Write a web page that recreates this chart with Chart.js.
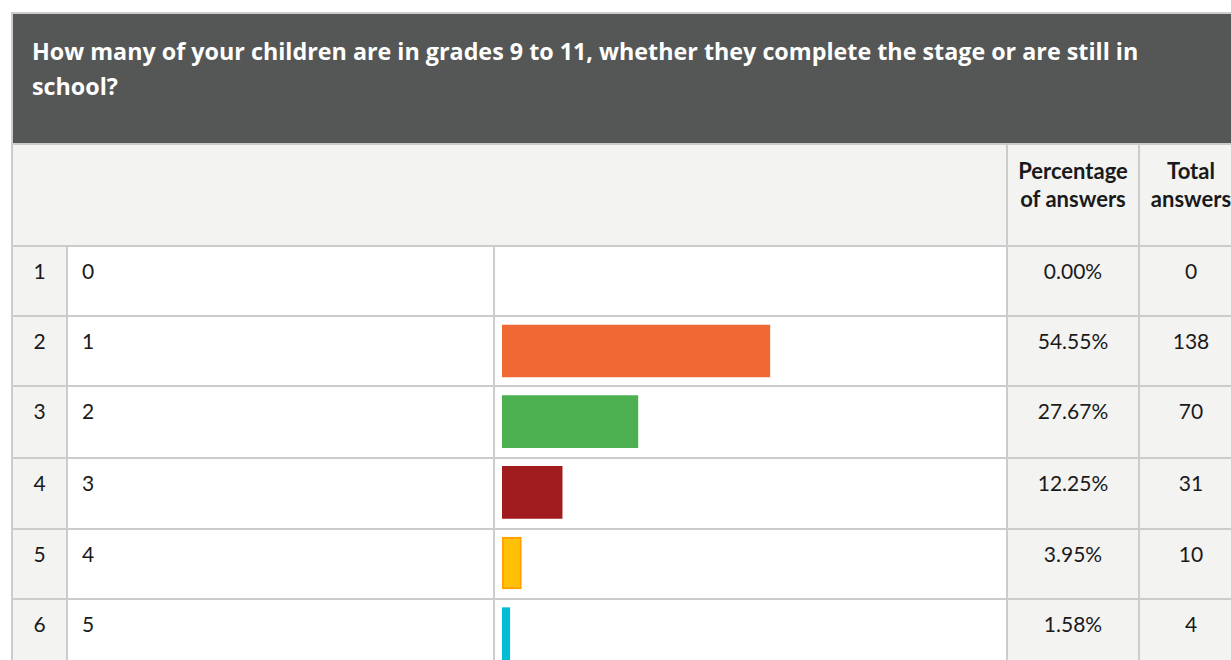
<!DOCTYPE html>
<html>
<head>
<meta charset="utf-8">
<script src="https://cdn.jsdelivr.net/npm/chart.js@4"></script>
<style>
  body { margin: 0; background: #fff; width: 1231px; height: 660px; overflow: hidden; position: relative; font-family: Lato, 'Open Sans', sans-serif; color: #1a1a1a; }
  .cell { position: absolute; box-sizing: border-box; border: 2px solid #cccccc; font-size: 21px; line-height: 24px; }
  .title { position: absolute; left: 11px; top: 12px; width: 1240px; height: 133px; box-sizing: border-box; border: 2px solid #cccccc; background: #555756; color: #fff; font-family: 'Open Sans', sans-serif; font-weight: bold; font-size: 23.3px; line-height: 35px; padding: 20px 70px 0 19px; }
  .head { font-weight: bold; font-size: 22px; text-align: center; padding-top: 12px; line-height: 28px; }
  #bars { position: absolute; left: 494px; top: 245px; }
</style>
</head>
<body>
<div id="grid"></div>
<canvas id="bars" width="512" height="424"></canvas>
<script>
const title = 'How many of your children are in grades 9 to 11, whether they complete the stage or are still in school?'
const headers = ['Percentage<br>of answers', 'Total<br>answers']
const rowNumbers = [1, 2, 3, 4, 5, 6]
const categories = ['0', '1', '2', '3', '4', '5']
const percentages = [0, 54.55, 27.67, 12.25, 3.95, 1.58]
const totals = [0, 138, 70, 31, 10, 4]
const barColors = ['rgba(0,0,0,0)', '#f06934', '#4cb050', '#a11c1f', '#ffc107', '#00bcd4']
const barBorders = ['rgba(0,0,0,0)', '#f06934', '#4cb050', '#a11c1f', '#ffa000', '#00bcd4']

// table layout
const colX = [11, 66, 493, 1006, 1138, 1250]
const rowY = [143, 245, 315, 385, 457, 528, 598, 669]
const grid = document.querySelector('#grid')
const gray = '#f3f3f2'

function cell(x0, x1, y0, y1, bg, html, style) {
    const d = document.createElement('div')
    d.className = 'cell'
    d.style.left = x0 + 'px'
    d.style.top = y0 + 'px'
    d.style.width = (x1 - x0 + 2) + 'px'
    d.style.height = (y1 - y0 + 2) + 'px'
    d.style.background = bg
    d.innerHTML = html
    Object.assign(d.style, style || {})
    grid.appendChild(d)
    return d
}

const t = document.createElement('div')
t.className = 'title'
t.textContent = title
grid.appendChild(t)

cell(colX[0], colX[3], rowY[0], rowY[1], gray, '')
cell(colX[3], colX[4], rowY[0], rowY[1], gray, headers[0]).classList.add('head')
cell(colX[4], colX[5], rowY[0], rowY[1], gray, headers[1], { paddingRight: '8px' }).classList.add('head')

categories.forEach((c, i) => {
    const y0 = rowY[i + 1], y1 = rowY[i + 2]
    const pad = { paddingTop: '12px' }
    cell(colX[0], colX[1], y0, y1, gray, rowNumbers[i], Object.assign({ textAlign: 'center' }, pad))
    cell(colX[1], colX[2], y0, y1, '#fff', c, Object.assign({ paddingLeft: '14px' }, pad))
    cell(colX[2], colX[3], y0, y1, '#fff', '')
    cell(colX[3], colX[4], y0, y1, gray, percentages[i].toFixed(2) + '%', Object.assign({ textAlign: 'center' }, pad))
    cell(colX[4], colX[5], y0, y1, gray, totals[i], Object.assign({ textAlign: 'center', paddingRight: '8px' }, pad))
})

new Chart(document.querySelector('#bars'), {
    type: 'bar',
    data: {
        labels: categories,
        datasets: [{
            data: percentages,
            backgroundColor: barColors,
            borderColor: barBorders,
            borderWidth: [0, 0, 0, 0, 2, 0],
            borderSkipped: false,
            barThickness: 52
        }]
    },
    options: {
        indexAxis: 'y',
        responsive: false,
        animation: false,
        layout: { padding: { left: 8, right: 13, top: 0, bottom: 0 } },
        plugins: {
            legend: false,
            tooltip: { enabled: false }
        },
        scales: {
            x: { display: false, min: 0, max: 100 },
            y: { display: false }
        }
    }
})
</script>
</body>
</html>
